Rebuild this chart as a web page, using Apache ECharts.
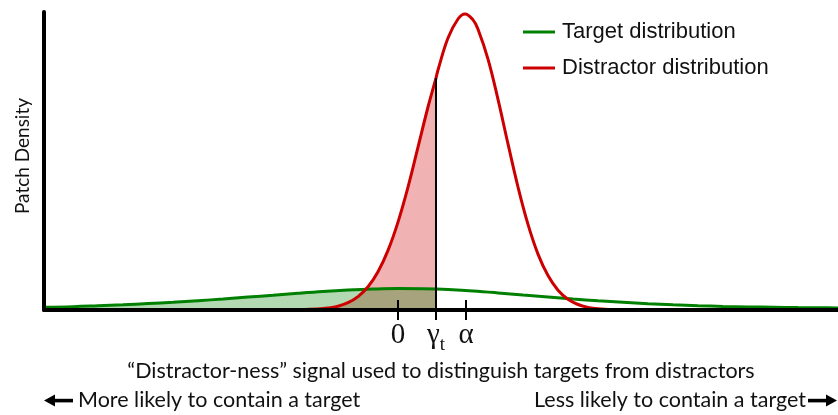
<!DOCTYPE html>
<html>
<head>
<meta charset="utf-8">
<script src="https://cdn.jsdelivr.net/npm/echarts@6/dist/echarts.min.js"></script>
<style>
  html, body { margin: 0; padding: 0; background: #ffffff; }
  #chart { width: 838px; height: 415px; }
</style>
</head>
<body>
<div id="chart"></div>
<script>
// ---- data (x: signal, y: density, arbitrary units) ----
var targetX = [-3.54, -3.25, -3.0, -2.75, -2.5, -2.25, -2.0, -1.75, -1.5, -1.25, -1.0, -0.75, -0.5, -0.25, 0, 0.25, 0.38, 0.5, 0.75, 1.0, 1.25, 1.5, 1.75, 2.0, 2.25, 2.5, 2.75, 3.0, 3.25, 3.5, 3.75, 4.0, 4.25, 4.4];
var targetY = [2.8, 3.3, 4.2, 5.2, 6.4, 7.7, 9.3, 11.0, 12.9, 14.8, 16.8, 18.6, 20.0, 21.0, 21.5, 21.3, 21.0, 20.5, 19.0, 17.1, 15.0, 13.0, 11.0, 9.2, 7.7, 6.3, 5.2, 4.3, 3.6, 3.1, 2.7, 2.4, 2.2, 2.1];

var distractorX = [-3.54, -1.2, -1.0, -0.8, -0.7, -0.6, -0.5, -0.4, -0.3, -0.2, -0.1, 0, 0.1, 0.2, 0.3, 0.38, 0.4, 0.5, 0.6, 0.67, 0.75, 0.8, 0.9, 1.0, 1.1, 1.2, 1.3, 1.4, 1.5, 1.6, 1.7, 1.8, 1.9, 2.0, 2.2, 2.5, 4.4];
var distractorY = [0, 0, 0.2, 0.9, 1.9, 3.8, 7.3, 13.4, 23.2, 38.2, 59.6, 87.9, 122.9, 162.9, 203.0, 232.0, 240.0, 272.0, 291.0, 296.0, 290.1, 280.8, 250.9, 210.6, 166.1, 123.0, 85.6, 55.9, 34.4, 19.8, 10.7, 5.5, 2.6, 1.2, 0.2, 0, 0];

var seriesNames = ['Target distribution', 'Distractor distribution'];
var gammaT = 0.38;          // threshold γt
var gammaTDensity = 232.0;  // distractor density at γt
var alphaValue = 0.68;      // α
var tickValues = [0, gammaT, alphaValue];
var tickLabels = ['{g|0}', '{g|γ}{s|t}', '{g|α}'];
var xAxisTitle = '\u201CDistractor-ness\u201D signal used to distinguish targets from distractors';
var yAxisTitle = 'Patch Density';
var leftNote = 'More likely to contain a target';
var rightNote = 'Less likely to contain a target';

var xMin = -3.54, xMax = 4.40, yMax = 298;

function pairs(xs, ys, limit) {
  var out = [];
  for (var i = 0; i < xs.length; i++) {
    if (limit === undefined || xs[i] <= limit + 1e-9) out.push([xs[i], ys[i]]);
  }
  return out;
}

var chart = echarts.init(document.getElementById('chart'), null, { renderer: 'canvas' });

var sansFont = 'Lato';
var option = {
  backgroundColor: '#ffffff',
  animation: false,
  grid: { left: 44, right: 0, top: 12, bottom: 105, containLabel: false, outerBoundsMode: 'none' },
  legend: {
    data: seriesNames,
    orient: 'vertical',
    left: 523, top: 21,
    padding: 0,
    itemGap: 14,
    itemWidth: 32, itemHeight: 3,
    icon: 'rect',
    textStyle: { fontFamily: 'Liberation Sans', fontSize: 22, color: '#111', padding: [0, 0, 0, 2] }
  },
  xAxis: [{
    type: 'value', min: xMin, max: xMax, position: 'bottom', z: 5,
    axisLine: { show: true, onZero: false, lineStyle: { color: '#000', width: 4 } },
    axisTick: { show: true, inside: true, length: 10, customValues: tickValues, lineStyle: { color: '#000', width: 2 } },
    axisLabel: {
      show: true, customValues: tickValues, margin: 5, color: '#111',
      formatter: function (v) {
        for (var i = 0; i < tickValues.length; i++) if (Math.abs(tickValues[i] - v) < 1e-6) return tickLabels[i];
        return '';
      },
      rich: {
        g: { fontFamily: 'Liberation Serif', fontSize: 29, lineHeight: 40, color: '#111' },
        s: { fontFamily: 'Liberation Serif', fontSize: 19, lineHeight: 19, padding: [21, 0, 0, 0], color: '#111' }
      }
    },
    splitLine: { show: false },
    name: xAxisTitle, nameLocation: 'middle', nameGap: 35,
    nameTextStyle: { fontFamily: sansFont, fontSize: 21.5, color: '#111' }
  }, {
    type: 'value', min: xMin, max: xMax, position: 'bottom', z: 5,
    axisLine: { show: false },
    axisTick: { show: true, inside: false, length: 10, customValues: tickValues, lineStyle: { color: '#000', width: 2 } },
    axisLabel: { show: false },
    splitLine: { show: false }
  }],
  yAxis: {
    type: 'value', min: 0, max: yMax, z: 5,
    axisLine: { show: true, onZero: false, lineStyle: { color: '#000', width: 4 } },
    axisTick: { show: false }, axisLabel: { show: false }, splitLine: { show: false },
    name: yAxisTitle, nameLocation: 'middle', nameGap: 12,
    nameTextStyle: { fontFamily: sansFont, fontSize: 19, color: '#111', padding: [0, 0, 0, 10] }
  },
  series: [
    {
      name: 'distractor-fill', type: 'line', xAxisIndex: 0, smooth: 0.4, showSymbol: false, silent: true,
      data: pairs(distractorX, distractorY, gammaT),
      lineStyle: { width: 0, opacity: 0 },
      areaStyle: { color: 'rgba(204,0,0,0.3)', opacity: 1 }
    },
    {
      name: 'target-fill', type: 'line', xAxisIndex: 0, smooth: 0.4, showSymbol: false, silent: true,
      data: pairs(targetX, targetY, gammaT),
      lineStyle: { width: 0, opacity: 0 },
      areaStyle: { color: 'rgba(0,128,0,0.3)', opacity: 1 }
    },
    {
      name: seriesNames[0], type: 'line', xAxisIndex: 0, smooth: 0.4, showSymbol: false,
      data: pairs(targetX, targetY),
      color: '#008000',
      lineStyle: { color: '#008000', width: 3 }
    },
    {
      name: seriesNames[1], type: 'line', xAxisIndex: 0, smooth: 0.4, showSymbol: false,
      data: pairs(distractorX, distractorY),
      color: '#cc0000',
      lineStyle: { color: '#cc0000', width: 3 },
      markLine: {
        silent: true, symbol: ['none', 'none'], label: { show: false },
        lineStyle: { color: '#000', width: 2, type: 'solid' },
        data: [[{ coord: [gammaT, 0] }, { coord: [gammaT, gammaTDensity] }]]
      }
    }
  ],
  graphic: [
    { type: 'polygon', shape: { points: [[44, 400.5], [55, 394.5], [55, 406.5]] }, style: { fill: '#000' } },
    { type: 'rect', shape: { x: 54, y: 398.8, width: 19, height: 3.6 }, style: { fill: '#000' } },
    { type: 'text', left: 78, top: 389, style: { text: leftNote, font: '21.5px Lato', fill: '#111' } },
    { type: 'polygon', shape: { points: [[837, 400.5], [826, 394.5], [826, 406.5]] }, style: { fill: '#000' } },
    { type: 'rect', shape: { x: 808, y: 398.8, width: 19, height: 3.6 }, style: { fill: '#000' } },
    { type: 'text', right: 32, top: 389, style: { text: rightNote, font: '21.5px Lato', fill: '#111' } }
  ]
};
chart.setOption(option);
</script>
</body>
</html>
